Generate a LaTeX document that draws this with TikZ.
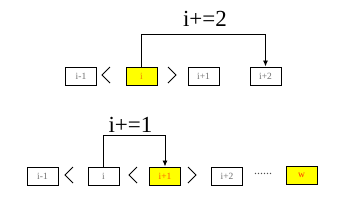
\documentclass[tikz,border=0pt]{standalone}
\usepackage{fontspec}
\setmainfont{Liberation Serif}
\usetikzlibrary{arrows.meta}
\definecolor{boxtext}{HTML}{707070}
\definecolor{hlyellow}{HTML}{FFFF00}
\tikzset{
  cell/.style={draw=black, line width=1pt, fill=white, minimum width=31pt, minimum height=18pt, inner sep=0pt, font=\fontsize{9.5}{10}\selectfont, text=boxtext},
  hlcell/.style={cell, fill=hlyellow},
  chev/.style={line width=0.8pt, black},
  jump/.style={line width=0.9pt, black, -{Latex[length=6pt,width=5pt]}},
  jumplabel/.style={font=\fontsize{23}{24}\selectfont, inner sep=0pt}
}
\begin{document}
\begin{tikzpicture}[x=1pt,y=-1pt]
\useasboundingbox (0,0) rectangle (345,202);
% top row
\node[cell] (a1) at (81,76) {i-1};
\node[hlcell, text={rgb,255:red,240;green,128;blue,0}] (a2) at (141.5,76) {i};
\node[cell] (a3) at (203.5,76) {i+1};
\node[cell] (a4) at (265.5,76) {i+2};
\draw[chev] (110,67) -- (102,75) -- (110,83);
\draw[chev] (168,67) -- (176,75) -- (168,83);
\coordinate (c1) at (a2.north |- 0,34);
\coordinate (c2) at (a4.north |- 0,34);
\draw[jump] (a2.north) -- (c1) -- (c2) -- (a4.north);
\node[jumplabel] (l1) at (205,19) {i+=2};
% bottom row
\node[cell] (b1) at (42.5,176) {i-1};
\node[cell] (b2) at (103.5,176) {i};
\node[hlcell, text={rgb,255:red,255;green,90;blue,0}] (b3) at (165,176) {i+1};
\node[cell] (b4) at (227,176) {i+2};
\node[hlcell, text={rgb,255:red,255;green,50;blue,0}] (b5) at (301.5,175) {w};
\draw[chev] (73,167) -- (65,175) -- (73,183);
\draw[chev] (137,167) -- (129,175) -- (137,183);
\draw[chev] (188,167) -- (196,175) -- (188,183);
\node[font=\fontsize{12}{12}\selectfont, text=black!70, inner sep=0pt] (dots) at (263,174) {......};
\coordinate (d1) at (b2.north |- 0,135);
\coordinate (d2) at (b3.north |- 0,135);
\draw[jump] (b2.north) -- (d1) -- (d2) -- (b3.north);
\node[jumplabel] (l2) at (130.5,125) {i+=1};
\end{tikzpicture}
\end{document}
